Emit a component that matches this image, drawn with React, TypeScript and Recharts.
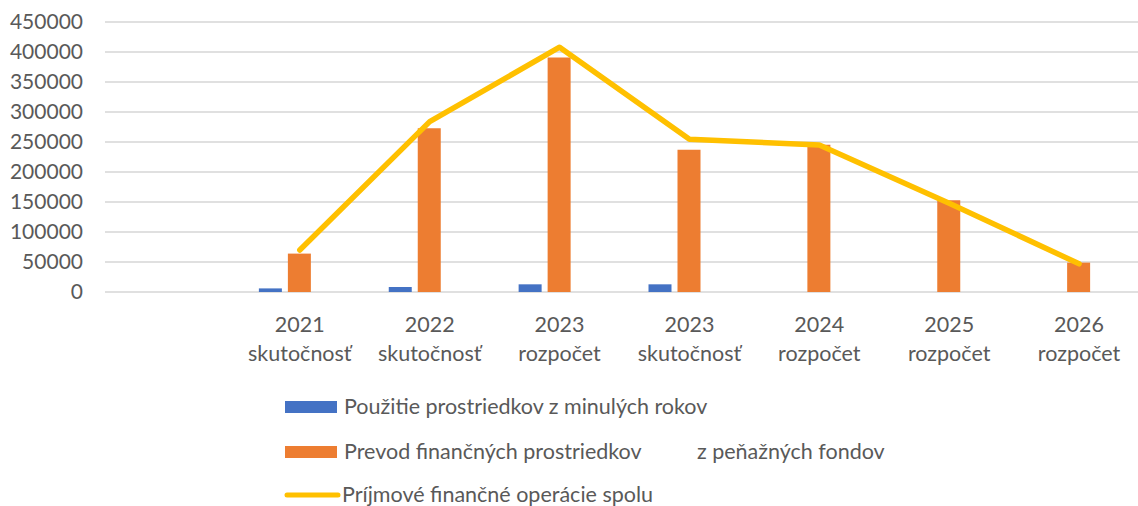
import React from 'react';
import { ComposedChart, Bar, Line, XAxis, YAxis, CartesianGrid, Legend } from 'recharts';

const categories = ['', '2021|skutočnosť', '2022|skutočnosť', '2023|rozpočet', '2023|skutočnosť', '2024|rozpočet', '2025|rozpočet', '2026|rozpočet'];
const pouzitie = [null, 6000, 8300, 12800, 12800, 0, 0, 0];
const prevod = [null, 64000, 273000, 391000, 237000, 245500, 153000, 49000];
const spolu = [null, 70000, 284000, 408000, 254500, 245000, 148000, 47000];
const spacer = [null, null, null, null, null, null, null, null];
const yTicks = [0, 50000, 100000, 150000, 200000, 250000, 300000, 350000, 400000, 450000];

const legendNames = [
  'Použitie prostriedkov z minulých rokov',
  'Prevod finančných prostriedkov',
  'z peňažných fondov',
  'Príjmové finančné operácie spolu',
];

const data = categories.map((c, i) => ({
  cat: c,
  pouzitie: pouzitie[i],
  prevod: prevod[i],
  spolu: spolu[i],
  spacer: spacer[i],
}));

const FONT = 'Lato, "Open Sans", sans-serif';
const TEXT = '#595959';

const XTick = (props: any) => {
  const { x, y, payload } = props;
  const parts = String(payload.value).split('|');
  if (!parts[0]) return null;
  return (
    <text x={x} y={y} textAnchor="middle" fill={TEXT} fontFamily={FONT} fontSize={21.5}>
      <tspan x={x} dy={32}>{parts[0]}</tspan>
      <tspan x={x} dy={29}>{parts[1]}</tspan>
    </text>
  );
};

const LegendContent = () => (
  <svg width={720} height={120} style={{ overflow: 'visible' }}>
    <rect x={5} y={11} width={52} height={12} fill="#4472C4" />
    <text x={64} y={24} fill={TEXT} fontFamily={FONT} fontSize={21.5}>{legendNames[0]}</text>
    <rect x={5} y={56} width={52} height={12} fill="#ED7D31" />
    <text x={64} y={69} fill={TEXT} fontFamily={FONT} fontSize={21.5}>{legendNames[1]}</text>
    <text x={417} y={69} fill={TEXT} fontFamily={FONT} fontSize={21.5}>{legendNames[2]}</text>
    <line x1={7} y1={105} x2={58} y2={105} stroke="#FFC000" strokeWidth={5} strokeLinecap="round" />
    <text x={62} y={112} fill={TEXT} fontFamily={FONT} fontSize={21.5}>{legendNames[3]}</text>
  </svg>
);

export default function App() {
  return (
    <div style={{ position: 'absolute', left: 0, top: 0, width: 1138, height: 506, overflow: 'hidden', background: '#fff' }}>
      <ComposedChart
        width={1144}
        height={506}
        data={data}
        margin={{ top: 22, right: 0, bottom: 134, left: 0 }}
        barSize={23}
        barGap={6}
      >
        <CartesianGrid vertical={false} stroke="#D6D6D6" strokeWidth={1.6} />
        <XAxis
          dataKey="cat"
          interval={0}
          axisLine={false}
          tickLine={false}
          height={80}
          tick={<XTick />}
        />
        <YAxis
          domain={[0, 450000]}
          ticks={yTicks}
          width={105}
          axisLine={false}
          tickLine={false}
          tickMargin={16}
          tick={{ fill: TEXT, fontFamily: FONT, fontSize: 21 }}
          interval={0}
        />
        <Legend
          layout="vertical"
          verticalAlign="middle"
          align="center"
          content={<LegendContent />}
          wrapperStyle={{ position: 'absolute', left: 280, top: 390, width: 720, height: 116 }}
        />
        <Bar dataKey="pouzitie" fill="#4472C4" isAnimationActive={false} />
        <Bar dataKey="prevod" fill="#ED7D31" isAnimationActive={false} />
        <Bar dataKey="spacer" fill="#A5A5A5" isAnimationActive={false} />
        <Line
          dataKey="spolu"
          stroke="#FFC000"
          strokeWidth={5.5}
          dot={false}
          activeDot={false}
          strokeLinecap="round"
          strokeLinejoin="round"
          isAnimationActive={false}
        />
      </ComposedChart>
    </div>
  );
}
